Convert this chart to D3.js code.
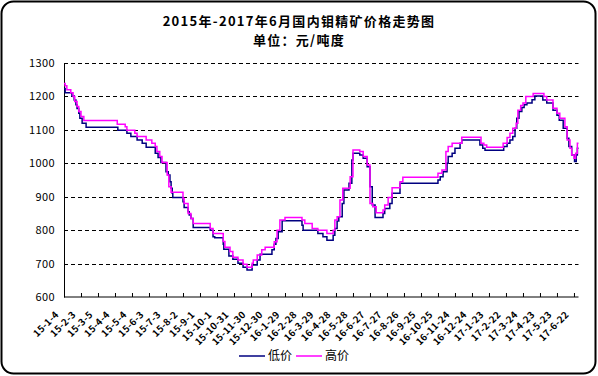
<!DOCTYPE html>
<html lang="zh">
<head>
<meta charset="UTF-8">
<title>钼精矿价格走势图</title>
<style>
    body { margin: 0; background: #fff; }
    svg text { font-family: "Noto Sans CJK SC", "Liberation Sans", sans-serif; }
</style>
</head>
<body>
<script src="https://d3js.org/d3.v7.min.js"></script>
<script>
    // days counted from 2015-01-04, values in 元/吨度
    const lowDays = [0, 2, 14, 18, 21, 23, 26, 28, 32, 39, 95, 111, 118, 129, 138, 145, 161, 166, 171, 180, 184,
        187, 189, 191, 192, 210, 212, 219, 221, 224, 228, 258, 263, 266, 281, 282, 291, 298, 307, 316, 323, 332,
        341, 346, 367, 371, 374, 378, 385, 420, 422, 448, 457, 464, 475, 478, 482, 485, 491, 494, 503, 508, 510,
        522, 528, 535, 540, 544, 549, 563, 566, 575, 579, 593, 660, 664, 669, 676, 678, 685, 690, 699, 702, 734,
        739, 743, 776, 782, 787, 792, 796, 799, 803, 808, 812, 817, 826, 831, 845, 852, 863, 870, 874, 881, 888,
        891, 896, 901, 904, 906];
    const lowValues = [1224, 1211, 1201, 1189, 1175, 1164, 1150, 1135, 1120, 1108, 1099, 1090, 1080, 1070, 1060,
        1048, 1030, 1017, 1002, 975, 965, 945, 925, 910, 898, 885, 868, 855, 845, 835, 808, 800, 780, 777, 758,
        743, 723, 713, 701, 689, 681, 696, 711, 728, 741, 758, 775, 795, 828, 815, 800, 790, 780, 770, 785, 805,
        827, 840, 880, 920, 940, 1010, 1030, 1025, 1015, 990, 930, 875, 838, 850, 865, 880, 910, 940, 950, 960,
        975, 1000, 1020, 1030, 1045, 1060, 1070, 1055, 1045, 1039, 1050, 1060, 1070, 1080, 1105, 1135, 1155,
        1167, 1175, 1180, 1190, 1201, 1189, 1180, 1159, 1144, 1129, 1105, 1075, 1050, 1025, 1005, 1025, 1045];

    const highDays = [0, 2, 5, 12, 16, 19, 23, 26, 30, 35, 94, 108, 111, 125, 129, 145, 155, 161, 164, 169, 173,
        182, 185, 189, 210, 212, 219, 224, 228, 258, 263, 281, 284, 293, 298, 307, 316, 323, 332, 334, 341, 349,
        355, 371, 376, 381, 390, 420, 425, 438, 448, 464, 475, 478, 482, 487, 492, 505, 510, 522, 528, 535, 540,
        545, 551, 563, 566, 572, 579, 593, 598, 660, 667, 674, 678, 685, 702, 736, 741, 746, 775, 782, 787, 792,
        798, 801, 806, 810, 815, 828, 847, 852, 863, 870, 875, 884, 888, 893, 896, 900, 903, 906];
    const highValues = [1239, 1232, 1220, 1211, 1200, 1185, 1170, 1155, 1140, 1128, 1117, 1109, 1099, 1090, 1080,
        1070, 1060, 1050, 1035, 1020, 1002, 965, 930, 913, 895, 880, 850, 835, 820, 805, 790, 766, 749, 736, 719,
        711, 698, 689, 701, 711, 726, 741, 749, 765, 800, 830, 838, 830, 820, 805, 800, 790, 800, 830, 840, 890,
        925, 960, 1040, 1035, 1020, 995, 880, 870, 852, 860, 875, 898, 927, 945, 958, 970, 980, 1035, 1050, 1060,
        1078, 1060, 1055, 1048, 1060, 1077, 1090, 1105, 1120, 1159, 1173, 1180, 1200, 1209, 1200, 1189, 1165,
        1150, 1135, 1109, 1070, 1045, 1025, 1015, 1030, 1060];

    const tickDays = d3.range(0, 901, 30);
    const tickLabels = ["15-1-4", "15-2-3", "15-3-5", "15-4-4", "15-5-4", "15-6-3", "15-7-3", "15-8-2", "15-9-1",
        "15-10-1", "15-10-31", "15-11-30", "15-12-30", "16-1-29", "16-2-28", "16-3-29", "16-4-28", "16-5-28",
        "16-6-27", "16-7-27", "16-8-26", "16-9-25", "16-10-25", "16-11-24", "16-12-24", "17-1-23", "17-2-22",
        "17-3-24", "17-4-23", "17-5-23", "17-6-22"];
    const yTicks = [600, 700, 800, 900, 1000, 1100, 1200, 1300];
    const lastDay = 908;

    const width = 598, height = 376;
    const svg = d3.select("body").append("svg")
        .attr("width", width)
        .attr("height", height);

    // rounded outer frame
    svg.append("rect")
        .attr("x", 1.5).attr("y", 1.5)
        .attr("width", 594).attr("height", 372)
        .attr("rx", 12).attr("ry", 12)
        .attr("fill", "#fff")
        .attr("stroke", "#000")
        .attr("stroke-width", 2);

    svg.append("text")
        .attr("x", 299).attr("y", 26)
        .attr("text-anchor", "middle")
        .attr("font-size", 13).attr("font-weight", "bold")
        .attr("letter-spacing", 1.3)
        .text("2015年-2017年6月国内钼精矿价格走势图");
    svg.append("text")
        .attr("x", 299).attr("y", 45)
        .attr("text-anchor", "middle")
        .attr("font-size", 13).attr("font-weight", "bold")
        .attr("letter-spacing", 1.3)
        .text("单位：元/吨度");

    const x = d3.scaleLinear().domain([0, lastDay]).range([64, 578.5]);
    const y = d3.scaleLinear().domain([600, 1300]).range([297, 63]);

    // dashed grid lines
    svg.append("g")
        .selectAll("line")
        .data(yTicks.filter(v => v > 600))
        .join("line")
        .attr("x1", x(0)).attr("x2", x(lastDay))
        .attr("y1", d => Math.round(y(d)) + 0.5).attr("y2", d => Math.round(y(d)) + 0.5)
        .attr("stroke", "#000")
        .attr("stroke-dasharray", "4,3");

    // left axis
    const yAxis = svg.append("g")
        .attr("transform", `translate(${x(0)},0)`)
        .call(d3.axisLeft(y).tickValues(yTicks).tickFormat(d3.format("d")).tickSize(0).tickPadding(9));
    yAxis.select(".domain").attr("stroke", "#000");
    yAxis.selectAll("text")
        .attr("font-family", "Liberation Sans, Arial, sans-serif")
        .attr("font-size", 11)
        .attr("letter-spacing", 0.4)
        .attr("fill", "#000");

    // bottom axis, ticks pointing up
    const xAxis = svg.append("g")
        .attr("transform", `translate(0,${y(600)})`)
        .call(d3.axisBottom(x).tickValues(tickDays).tickSize(-4).tickFormat(""));
    xAxis.select(".domain").attr("d", `M${x(0)},0H${x(lastDay)}`).attr("stroke", "#000");
    xAxis.selectAll(".tick line").attr("stroke", "#000");

    svg.append("g")
        .selectAll("text")
        .data(tickDays)
        .join("text")
        .attr("transform", (d, i) => `translate(${x(d) - 7},${313}) rotate(-45)`)
        .attr("text-anchor", "end")
        .attr("dy", "0.35em")
        .attr("font-family", "Liberation Sans, Arial, sans-serif")
        .attr("font-size", 9.5)
        .attr("font-weight", "bold")
        .attr("letter-spacing", 0.3)
        .text((d, i) => tickLabels[i]);

    const line = d3.line()
        .curve(d3.curveStepAfter)
        .x(d => x(d[0]))
        .y(d => y(d[1]));

    const lowData = lowDays.map((d, i) => [d, lowValues[i]]);
    lowData.push([lastDay, lowValues[lowValues.length - 1]]);
    const highData = highDays.map((d, i) => [d, highValues[i]]);
    highData.push([lastDay, highValues[highValues.length - 1]]);

    svg.append("path")
        .datum(lowData)
        .attr("fill", "none")
        .attr("stroke", "#000080")
        .attr("stroke-width", 1.5)
        .attr("d", line);
    svg.append("path")
        .datum(highData)
        .attr("fill", "none")
        .attr("stroke", "#ff00ff")
        .attr("stroke-width", 1.5)
        .attr("d", line);

    // legend
    const legend = [
        {name: "低价", color: "#000080", x: 239},
        {name: "高价", color: "#ff00ff", x: 296}
    ];
    const lg = svg.append("g");
    lg.selectAll("line")
        .data(legend)
        .join("line")
        .attr("x1", d => d.x).attr("x2", d => d.x + 26)
        .attr("y1", 356).attr("y2", 356)
        .attr("stroke", d => d.color)
        .attr("stroke-width", 1.5);
    lg.selectAll("text")
        .data(legend)
        .join("text")
        .attr("x", d => d.x + 29).attr("y", 360)
        .attr("font-size", 12)
        .text(d => d.name);
</script>
</body>
</html>
